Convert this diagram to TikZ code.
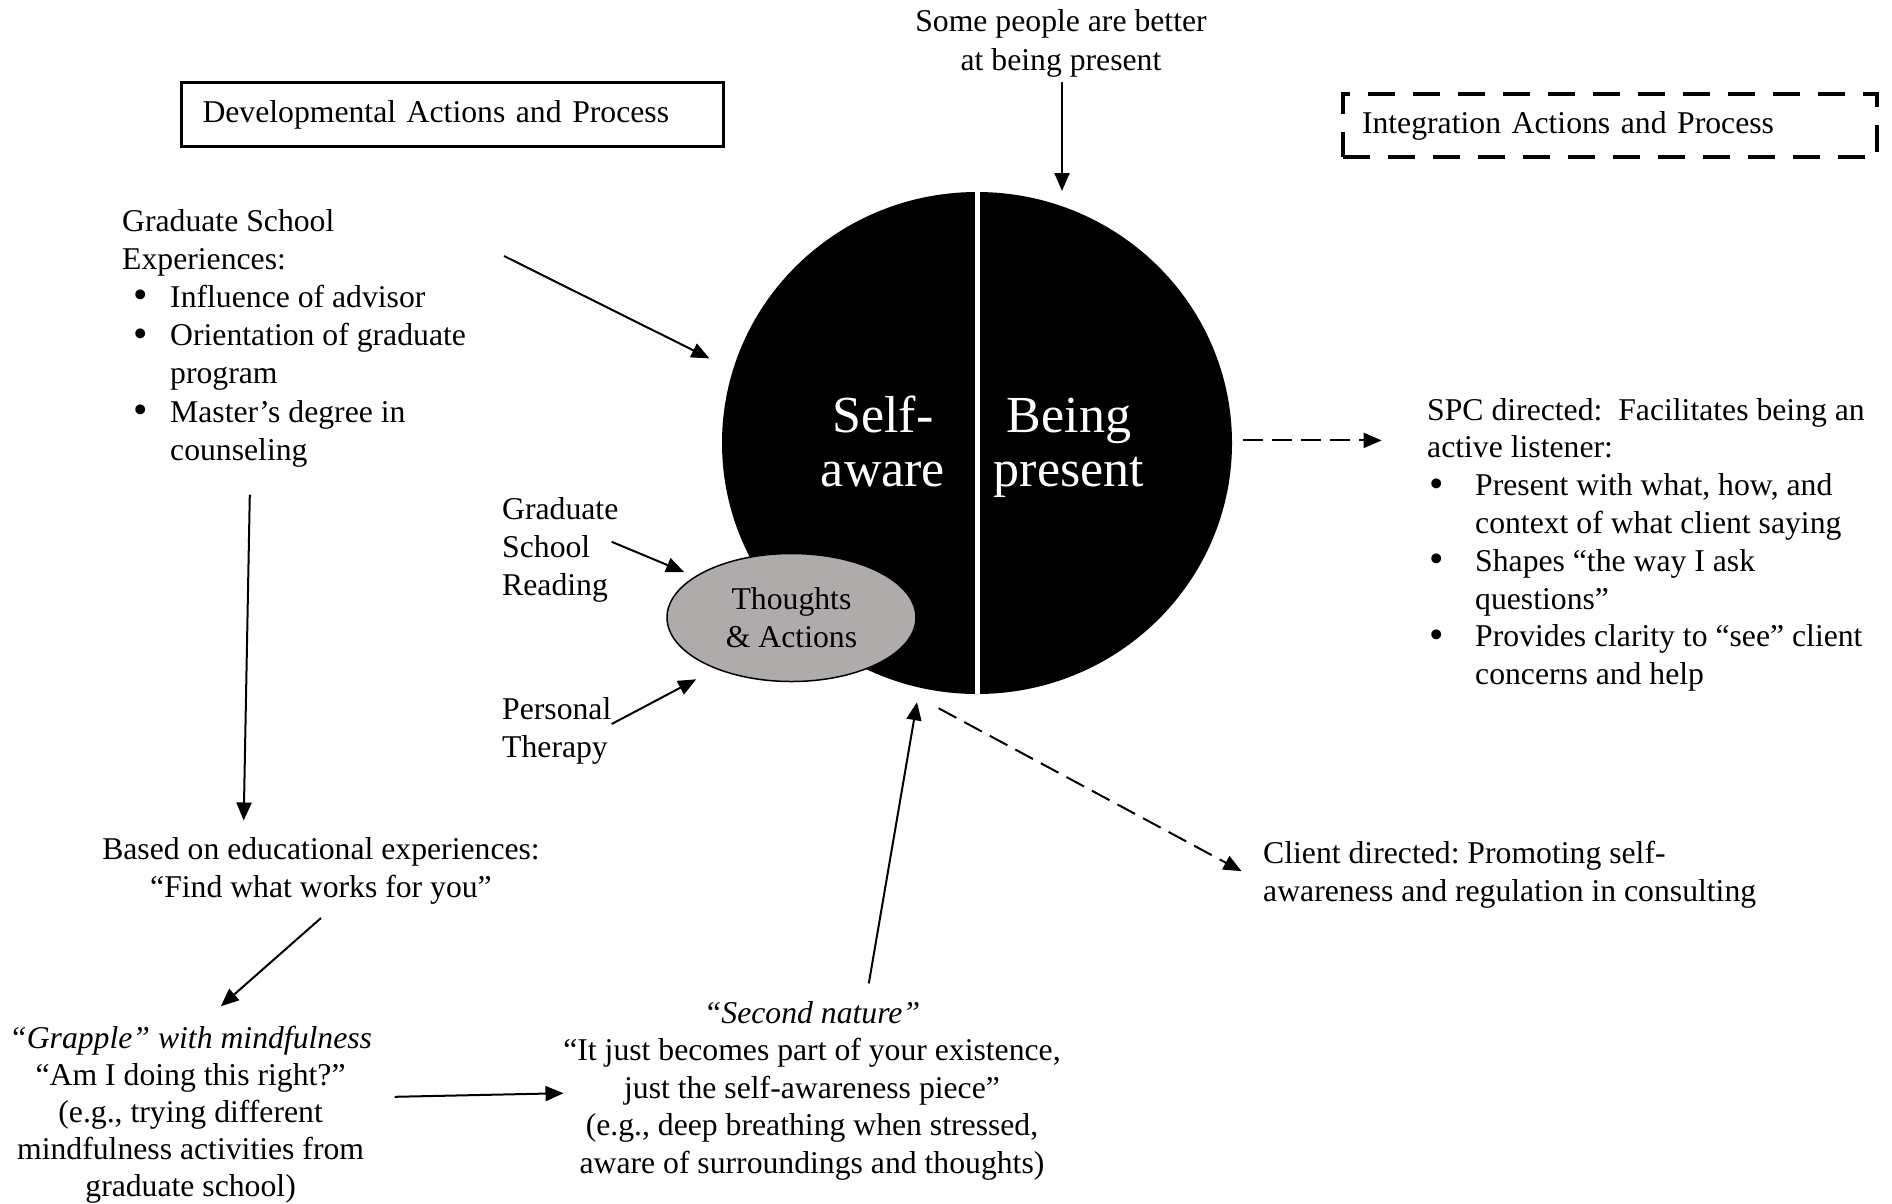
\documentclass[tikz,border=0pt]{standalone}
\usepackage{fontspec}
\setmainfont{Liberation Serif}
\usetikzlibrary{shapes.geometric,arrows.meta}
\definecolor{taupe}{HTML}{AEABAA}
\newcommand\bul[1][6.5pt]{\makebox[48pt][l]{\hspace{#1}\raisebox{-1.5pt}{\scalebox{1.3}{\textbullet}}}\ignorespaces}
\newcommand\ind{\hspace*{48pt}}
\begin{document}
\begin{tikzpicture}[x=1pt,y=-1pt,
  txt/.style={inner sep=0pt, font=\fontsize{31.7}{38.2}\selectfont},
  arr/.style={line width=2pt, -{Triangle[length=18pt,width=15pt]}},
  darr/.style={arr, dash pattern=on 20pt off 9pt},
]
\frenchspacing
\useasboundingbox (0,0) rectangle (1892,1203);

% header boxes
\node[txt, draw, line width=3.5pt, minimum width=542pt, minimum height=64pt,
      text width=500pt, inner xsep=21pt, align=left] (dev) at (452.5,114.5)
      {Developmental Actions and Process};
\node[txt, draw, line width=4pt, dash pattern=on 27pt off 18pt,
      minimum width=534.5pt, minimum height=63pt,
      text width=495.5pt, inner xsep=19.5pt, align=left] (integ) at (1609.75,125.5)
      {Integration Actions and Process};

% central circle
\node[ellipse, fill=black, minimum width=510pt, minimum height=502pt, inner sep=0pt] (circ) at (977,443) {};
\draw[white, line width=5pt] (circ.north) -- (circ.south);
\node[anchor=base, align=center, inner sep=0pt, text=white,
      font=\fontsize{52}{54}\selectfont] (self) at (883,486.5) {Self-\\aware};
\node[anchor=base, align=center, inner sep=0pt, text=white,
      font=\fontsize{52}{54}\selectfont] (being) at (1069,486.5) {Being\\present};

\node[txt, ellipse, draw, line width=1.5pt, fill=taupe, minimum width=249pt,
      minimum height=128pt, align=center] (ta) at (791.5,617.5) {Thoughts\\\& Actions};

% text blocks (anchored at the baseline of the last line)
\node[txt, anchor=base, align=center] (top) at (1061,70) {Some people are better\\at being present};

\node[txt, anchor=base west, align=left] (gs) at (122,460.2)
  {Graduate School\\Experiences:\\\bul[11pt] Influence of advisor\\\bul[11pt] Orientation of graduate\\\ind program\\\bul[11pt] Master’s degree in\\\ind counseling};

\node[txt, anchor=base west, align=left] (gsr) at (502,595.4) {Graduate\\School\\Reading};
\node[txt, anchor=base west, align=left] (pt) at (502,757.7) {Personal\\Therapy};

\node[txt, anchor=base, align=center] (based) at (321,897.2)
  {Based on educational experiences:\\“Find what works for you”};

\node[txt, anchor=base, align=center, font=\fontsize{31.7}{37}\selectfont] (grap) at (190.6,1196)
  {\textit{“Grapple” with mindfulness}\\“Am I doing this right?”\\(e.g., trying different\\mindfulness activities from\\graduate school)};

\node[txt, anchor=base, align=center, font=\fontsize{31.7}{37.4}\selectfont] (second) at (812,1173.1)
  {\textit{“Second nature”}\\“It just becomes part of your existence,\\just the self-awareness piece”\\(e.g., deep breathing when stressed,\\aware of surroundings and thoughts)};

\node[txt, anchor=base west, align=left] (client) at (1263,901.2)
  {Client directed: Promoting self-\\awareness and regulation in consulting};

\node[txt, anchor=base west, align=left, font=\fontsize{31.7}{37.8}\selectfont] (spc) at (1427,684.6)
  {SPC directed:\ \ Facilitates being an\\active listener:\\\bul[2pt] Present with what, how, and\\\ind context of what client saying\\\bul[2pt] Shapes “the way I ask\\\ind questions”\\\bul[2pt] Provides clarity to “see” client\\\ind concerns and help};

% connector end points
\coordinate (topS) at (1062,82);   \coordinate (topE) at (1062,191);
\coordinate (gsS) at (504,256);    \coordinate (gsE) at (709.5,358.4);
\coordinate (dnS) at (249.8,494.7); \coordinate (dnE) at (243.7,820.5);
\coordinate (bS) at (321,918);     \coordinate (bE) at (220.8,1006.3);
\coordinate (gS) at (394.6,1096.8); \coordinate (gE) at (563.5,1093.2);
\coordinate (sS) at (868.8,983.4); \coordinate (sE) at (917,702.2);
\coordinate (rS) at (611.7,541.8); \coordinate (rE) at (684.1,572);
\coordinate (pS) at (611.7,724);   \coordinate (pE) at (696.2,679.3);
\coordinate (cS) at (938.7,708.3); \coordinate (cE) at (1241.6,871.2);
\coordinate (iS) at (1242.8,440.4); \coordinate (iE) at (1381.6,440.4);

\draw[arr] (topS) -- (topE);
\draw[arr] (gsS) -- (gsE);
\draw[arr] (dnS) -- (dnE);
\draw[arr] (bS) -- (bE);
\draw[arr] (gS) -- (gE);
\draw[arr] (sS) -- (sE);
\draw[arr] (rS) -- (rE);
\draw[arr] (pS) -- (pE);
\draw[darr] (cS) -- (cE);
\draw[darr] (iS) -- (iE);
\end{tikzpicture}
\end{document}
